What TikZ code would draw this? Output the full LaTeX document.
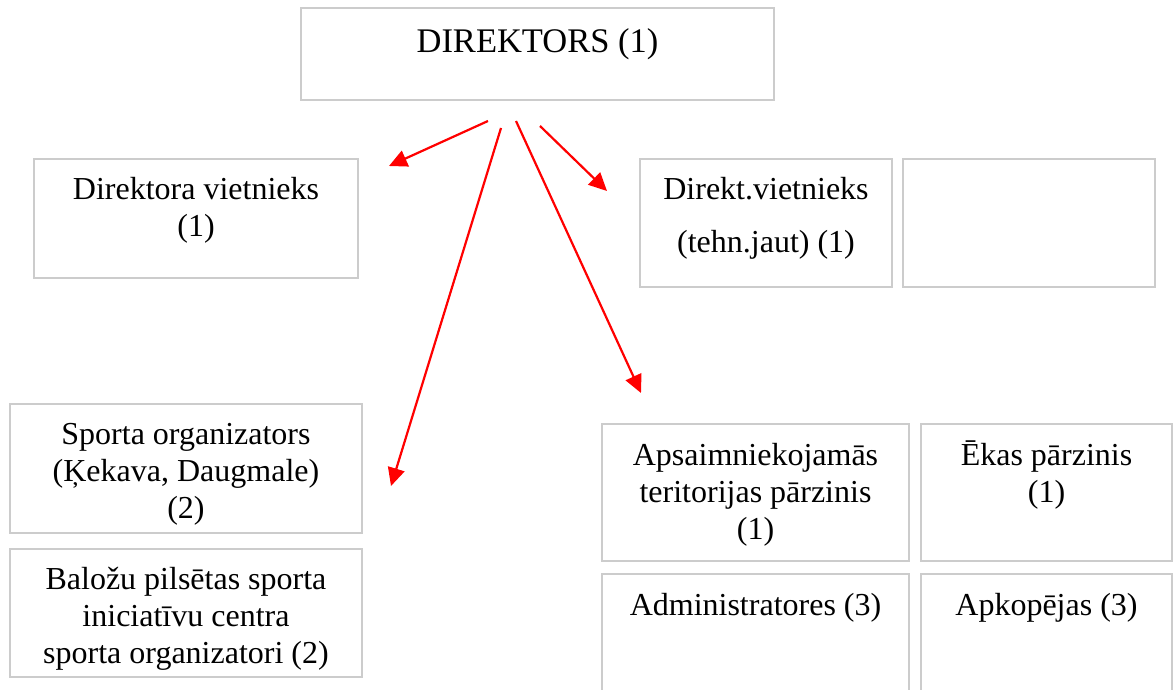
\documentclass[tikz,border=0pt]{standalone}
\usepackage{fontspec}
\setmainfont{Liberation Serif}
\usetikzlibrary{arrows.meta}
\definecolor{boxgray}{RGB}{204,204,204}
\definecolor{arrred}{RGB}{255,0,0}
\begin{document}
\begin{tikzpicture}[x=1pt,y=-1pt,
  box/.style={draw=boxgray, line width=1.3pt, inner sep=0pt, outer sep=0pt, anchor=north west},
  txt/.style={inner sep=0pt, anchor=north, align=center, font=\fontsize{32}{37}\selectfont},
  bigtxt/.style={inner sep=0pt, anchor=north, align=center, font=\fontsize{34.5}{40}\selectfont},
  arr/.style={draw=arrred, line width=2.2pt, -{Triangle[length=18pt,width=17pt]}}]
\useasboundingbox (0,0) rectangle (1173,690);
\clip (0,0) rectangle (1173,690);
% boxes
\node[box, minimum width=473, minimum height=92] (dir) at (301,8) {};
\node[box, minimum width=324, minimum height=119] (dv1) at (34,159) {};
\node[box, minimum width=252, minimum height=128] (dv2) at (640,159) {};
\node[box, minimum width=252, minimum height=128] (empty) at (903,159) {};
\node[box, minimum width=352, minimum height=129] (sport) at (10,404) {};
\node[box, minimum width=352, minimum height=128] (balozu) at (10,549) {};
\node[box, minimum width=307, minimum height=137] (aps) at (602,424) {};
\node[box, minimum width=251, minimum height=137] (ekas) at (921,424) {};
\node[box, minimum width=307, minimum height=140] (admin) at (602,574) {};
\node[box, minimum width=251, minimum height=140] (apkop) at (921,574) {};
% texts
\node[bigtxt] (dir-t) at (537.5,24) {\strut DIREKTORS (1)};
\node[txt] (dv1-t) at (196,173) {\strut Direktora vietnieks\\(1)};
\node[txt] (dv2-t) at (766,173) {\strut Direkt.vietnieks\\[16pt](tehn.jaut) (1)};
\node[txt] (sport-t) at (186,418) {\strut Sporta organizators\\(Ķekava, Daugmale)\\(2)};
\node[txt] (balozu-t) at (186,563) {\strut Baložu pilsētas sporta\\iniciatīvu centra\\sporta organizatori (2)};
\node[txt] (aps-t) at (755.5,439) {\strut Apsaimniekojamās\\teritorijas pārzinis\\(1)};
\node[txt] (ekas-t) at (1046.5,439) {\strut Ēkas pārzinis\\(1)};
\node[txt] (admin-t) at (755.5,589) {\strut Administratores (3)};
\node[txt] (apkop-t) at (1046.5,589) {\strut Apkopējas (3)};
% arrows
\coordinate (s1) at (488,121); \coordinate (e1) at (389,166);
\coordinate (s2) at (501,128); \coordinate (e2) at (391,486);
\coordinate (s3) at (516,121); \coordinate (e3) at (641,393);
\coordinate (s4) at (540,126); \coordinate (e4) at (607,191);
\draw[arr] (s1) -- (e1);
\draw[arr] (s2) -- (e2);
\draw[arr] (s3) -- (e3);
\draw[arr] (s4) -- (e4);
\end{tikzpicture}
\end{document}
